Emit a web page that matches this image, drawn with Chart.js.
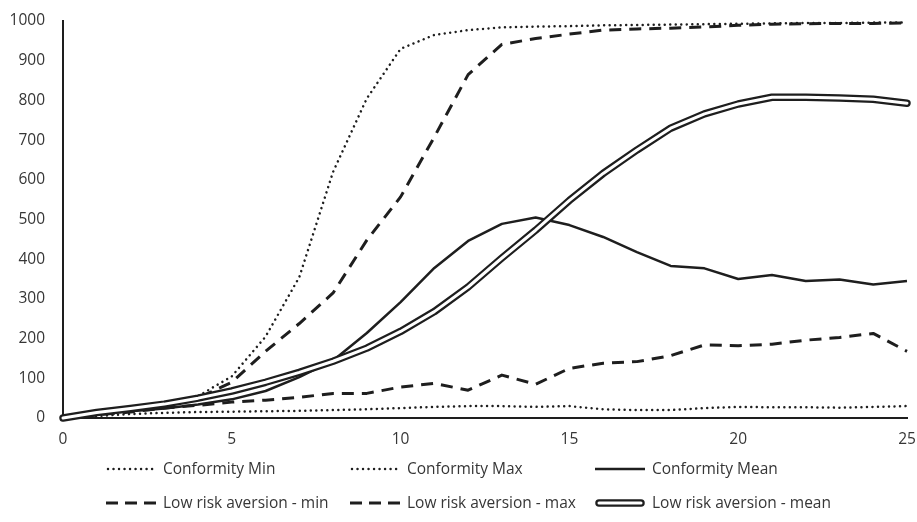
<!DOCTYPE html>
<html>
<head>
<meta charset="utf-8">
<script src="https://cdn.jsdelivr.net/npm/chart.js@4/dist/chart.umd.min.js"></script>
<style>
  html, body { margin: 0; padding: 0; background: #fff; }
  #wrap { width: 917px; height: 522px; }
</style>
</head>
<body>
<div id="wrap"><canvas id="c" width="917" height="522"></canvas></div>
<script>
// Time steps along the horizontal axis
const steps = [0, 1, 2, 3, 4, 5, 6, 7, 8, 9, 10, 11, 12, 13, 14, 15, 16, 17, 18, 19, 20, 21, 22, 23, 24, 25];

// Series values per step
const conformityMin  = [0, 5, 10, 13, 15, 16, 17, 18, 20, 22, 25, 28, 30, 30, 28, 30, 22, 20, 20, 25, 28, 27, 27, 26, 28, 30];
const conformityMax  = [0, 10, 20, 32, 55, 105, 205, 355, 620, 805, 930, 965, 977, 984, 986, 987, 989, 990, 991, 992, 993, 994, 995, 995, 996, 996];
const conformityMean = [0, 10, 17, 24, 34, 47, 68, 103, 145, 214, 292, 378, 446, 489, 505, 486, 456, 418, 383, 377, 350, 360, 345, 349, 336, 345];
const lowRiskMin     = [0, 8, 15, 25, 32, 40, 45, 52, 62, 62, 78, 87, 70, 108, 85, 125, 138, 142, 157, 184, 182, 186, 196, 203, 213, 168];
const lowRiskMax     = [0, 10, 20, 30, 50, 90, 168, 238, 315, 448, 557, 708, 865, 941, 956, 967, 977, 980, 982, 985, 989, 992, 993, 994, 994, 995];
const lowRiskMean    = [0, 14, 24, 35, 50, 68, 90, 115, 143, 176, 218, 268, 330, 403, 473, 548, 616, 675, 730, 766, 791, 808, 808, 806, 803, 793];

// Axis ticks
const xTicks = [0, 5, 10, 15, 20, 25];
const yTicks = [0, 100, 200, 300, 400, 500, 600, 700, 800, 900, 1000];

const INK = '#1e1e1e';
const TEXT = '#363636';
const FONT = '"Open Sans", "DejaVu Sans", sans-serif';
const DOT = [0.01, 5.5];
const DASH = [12, 8];

const toPoints = (vals) => vals.map((v, i) => ({ x: steps[i], y: v }));

const base = {
  pointRadius: 0,
  pointHoverRadius: 0,
  tension: 0,
  fill: false,
  clip: false,
  borderColor: INK,
  borderJoinStyle: 'round'
};

const datasets = [
  { ...base, label: 'Conformity Min', data: toPoints(conformityMin), borderWidth: 2.5, borderDash: DOT, borderCapStyle: 'round', order: 7 },
  { ...base, label: 'Conformity Max', data: toPoints(conformityMax), borderWidth: 2.5, borderDash: DOT, borderCapStyle: 'round', order: 6 },
  { ...base, label: 'Conformity Mean', data: toPoints(conformityMean), borderWidth: 2.5, order: 5 },
  { ...base, label: 'Low risk aversion - min', data: toPoints(lowRiskMin), borderWidth: 3, borderDash: DASH, order: 4 },
  { ...base, label: 'Low risk aversion - max', data: toPoints(lowRiskMax), borderWidth: 3, borderDash: DASH, order: 3 },
  // double line: dark outer stroke with a white core drawn on top
  { ...base, label: 'Low risk aversion - mean', data: toPoints(lowRiskMean), borderWidth: 7.5, borderCapStyle: 'round', order: 2 },
  { ...base, label: '', data: toPoints(lowRiskMean), borderWidth: 3, borderColor: '#ffffff', borderCapStyle: 'round', order: 1 }
];

// Legend laid out as a 3 x 2 grid under the plot
const legendKinds = ['dot', 'dot', 'solid', 'dash', 'dash', 'double'];
const legendCols = [106, 350, 595];
const legendRows = [469, 503];

function drawSample(ctx, kind, x, y, w) {
  ctx.save();
  ctx.strokeStyle = INK;
  ctx.beginPath();
  if (kind === 'dot') {
    ctx.lineWidth = 2.5; ctx.lineCap = 'round'; ctx.setLineDash(DOT);
    ctx.moveTo(x + 2, y); ctx.lineTo(x + w, y); ctx.stroke();
  } else if (kind === 'dash') {
    ctx.lineWidth = 3; ctx.lineCap = 'butt'; ctx.setLineDash([12, 7]);
    ctx.moveTo(x, y); ctx.lineTo(x + w, y); ctx.stroke();
  } else if (kind === 'solid') {
    ctx.lineWidth = 2.5;
    ctx.moveTo(x, y); ctx.lineTo(x + w, y); ctx.stroke();
  } else {
    ctx.lineCap = 'round';
    ctx.lineWidth = 7.5;
    ctx.moveTo(x + 4, y); ctx.lineTo(x + w - 4, y); ctx.stroke();
    ctx.beginPath();
    ctx.strokeStyle = '#ffffff';
    ctx.lineWidth = 3;
    ctx.moveTo(x + 4, y); ctx.lineTo(x + w - 4, y); ctx.stroke();
  }
  ctx.restore();
}

const gridLegend = {
  id: 'gridLegend',
  afterDraw(chart) {
    const ctx = chart.ctx;
    const labels = chart.data.datasets.map(d => d.label).filter(l => l);
    labels.forEach((label, i) => {
      const x = legendCols[i % 3];
      const y = legendRows[Math.floor(i / 3)];
      drawSample(ctx, legendKinds[i], x, y, 50);
      ctx.save();
      ctx.fillStyle = TEXT;
      ctx.font = '15.5px ' + FONT;
      ctx.textBaseline = 'middle';
      ctx.textAlign = 'left';
      ctx.fillText(label, x + 57, y + 1);
      ctx.restore();
    });
  }
};

new Chart(document.getElementById('c'), {
  type: 'line',
  data: { datasets },
  options: {
    responsive: false,
    animation: false,
    devicePixelRatio: 1,
    layout: { padding: { top: 21, right: 10, left: 0, bottom: 0 } },
    plugins: { legend: { display: false }, tooltip: { enabled: false } },
    events: [],
    scales: {
      x: {
        type: 'linear',
        min: 0,
        max: 25,
        afterFit(s) { s.height = 104; s.paddingLeft = 0; s.paddingRight = 0; },
        afterBuildTicks(s) { s.ticks = xTicks.map(v => ({ value: v })); },
        grid: { display: false, drawTicks: false },
        border: { display: true, color: INK, width: 2 },
        ticks: { color: TEXT, padding: 12, font: { family: FONT, size: 15.5 }, maxRotation: 0, callback: v => String(v) }
      },
      y: {
        type: 'linear',
        min: 0,
        max: 1000,
        afterFit(s) { s.width = 63; s.paddingTop = 0; s.paddingBottom = 0; },
        afterBuildTicks(s) { s.ticks = yTicks.map(v => ({ value: v })); },
        grid: { display: false, drawTicks: false },
        border: { display: true, color: INK, width: 2 },
        ticks: { color: TEXT, padding: 18, font: { family: FONT, size: 15.5 }, callback: v => String(v) }
      }
    }
  },
  plugins: [gridLegend]
});
</script>
</body>
</html>
